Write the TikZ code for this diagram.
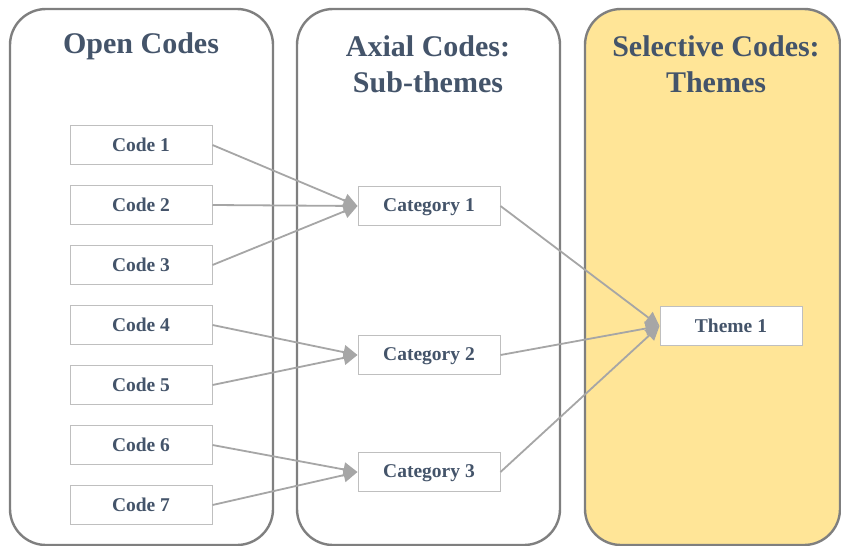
\documentclass[tikz,border=0pt]{standalone}
\usepackage{fontspec}
\setmainfont{Liberation Serif}
\usetikzlibrary{arrows.meta}
\definecolor{titleblue}{HTML}{44546A}
\definecolor{panelgray}{HTML}{7F7F7F}
\definecolor{boxgray}{HTML}{BFBFBF}
\definecolor{linkgray}{HTML}{A6A6A6}
\definecolor{themegold}{HTML}{FFE597}
\tikzset{
  panel/.style={draw=panelgray, line width=2.4pt, rounded corners=36pt},
  paneltitle/.style={text=titleblue, font=\fontsize{30}{36}\selectfont\bfseries, align=center},
  codebox/.style={draw=boxgray, line width=1pt, fill=white, minimum width=142pt,
    minimum height=39pt, inner sep=0pt, text=titleblue,
    font=\fontsize{19.5}{22}\selectfont\bfseries, text depth=1pt},
  link/.style={draw=linkgray, line width=1.8pt, -{Triangle[length=14pt,width=14pt]}}
}
\begin{document}
\begin{tikzpicture}[x=1pt,y=-1pt]
\useasboundingbox (0,0) rectangle (841,546);
% three column panels
\draw[panel, fill=white] (10,9) rectangle (273,545);
\draw[panel, fill=white] (297,9) rectangle (560,545);
\draw[panel, fill=themegold] (585,9) rectangle (840,545);
% column headings
\node[paneltitle] (t1) at (141,46) {Open Codes};
\node[paneltitle] (t2) at (428,64) {Axial Codes:\\Sub-themes};
\node[paneltitle] (t3) at (716,64) {Selective Codes:\\Themes};
% open codes
\foreach \i/\y in {1/145,2/205,3/265,4/325,5/385,6/445,7/505}
  \node[codebox] (c\i) at (141,\y) {Code \i};
% axial categories
\node[codebox] (k1) at (429,206) {Category 1};
\node[codebox] (k2) at (429,355) {Category 2};
\node[codebox] (k3) at (429,472) {Category 3};
% selective theme
\node[codebox] (th) at (731,326) {Theme 1};
% links from codes to categories
\foreach \i in {1,2,3} \draw[link] (c\i.east) -- (k1.west);
\foreach \i in {4,5} \draw[link] (c\i.east) -- (k2.west);
\foreach \i in {6,7} \draw[link] (c\i.east) -- (k3.west);
% links from categories to the theme
\foreach \i in {1,2,3} \draw[link] (k\i.east) -- (th.west);
\end{tikzpicture}
\end{document}
